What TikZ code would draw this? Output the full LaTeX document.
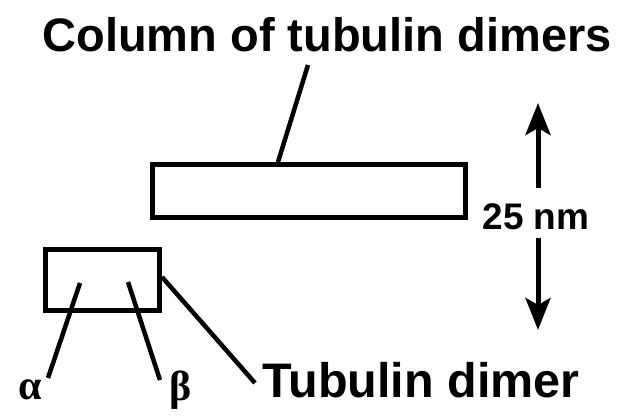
\documentclass[tikz,border=0pt]{standalone}
\usepackage{fontspec}
\setmainfont{Liberation Sans}
\newfontfamily\greekfont{Liberation Serif}
\usetikzlibrary{arrows.meta}
\begin{document}
\begin{tikzpicture}[x=1pt,y=-1pt,
  box/.style={draw, line width=5pt, inner sep=0pt},
  lab/.style={font=\fontsize{47}{50}\selectfont\bfseries, inner sep=0pt, anchor=base},
  greek/.style={font=\greekfont\fontsize{42}{44}\selectfont\bfseries, inner sep=0pt},
  lead/.style={line width=4.5pt},
  dimarrow/.style={-{Stealth[length=32pt,width=25pt,inset=7pt]}, line width=5pt}]
\useasboundingbox (0,0) rectangle (625,419);
% boxes
\node[box, minimum width=313pt, minimum height=53pt] (col) at (309,191) {};
\node[box, minimum width=114pt, minimum height=61pt] (dimer) at (102.5,280) {};
% labels
\node[lab] (title) at (327,52) {Column of tubulin dimers};
\node[lab, font=\fontsize{48.5}{50}\selectfont\bfseries] (tdimer) at (421,398) {Tubulin dimer};
\node[lab, font=\fontsize{37}{40}\selectfont\bfseries] (nm) at (536,230) {25 nm};
\node[greek] (alpha) at (30,390) {α};
\node[greek] (beta) at (181,390) {β};
% leader ends
\coordinate (c1) at (308,65);
\coordinate (c2) at (278,162);
\coordinate (a1) at (80,283);
\coordinate (a2) at (48,378);
\coordinate (b1) at (128,282);
\coordinate (b2) at (160,380);
\coordinate (d1) at (162,277);
\coordinate (d2) at (255,383);
\draw[lead] (c1) -- (c2);
\draw[lead] (a1) -- (a2);
\draw[lead] (b1) -- (b2);
\draw[lead] (d1) -- (d2);
% dimension arrows
\coordinate (u1) at (538,188);
\coordinate (u2) at (538,103);
\coordinate (w1) at (538,238);
\coordinate (w2) at (538,330);
\draw[dimarrow] (u1) -- (u2);
\draw[dimarrow] (w1) -- (w2);
\end{tikzpicture}
\end{document}
